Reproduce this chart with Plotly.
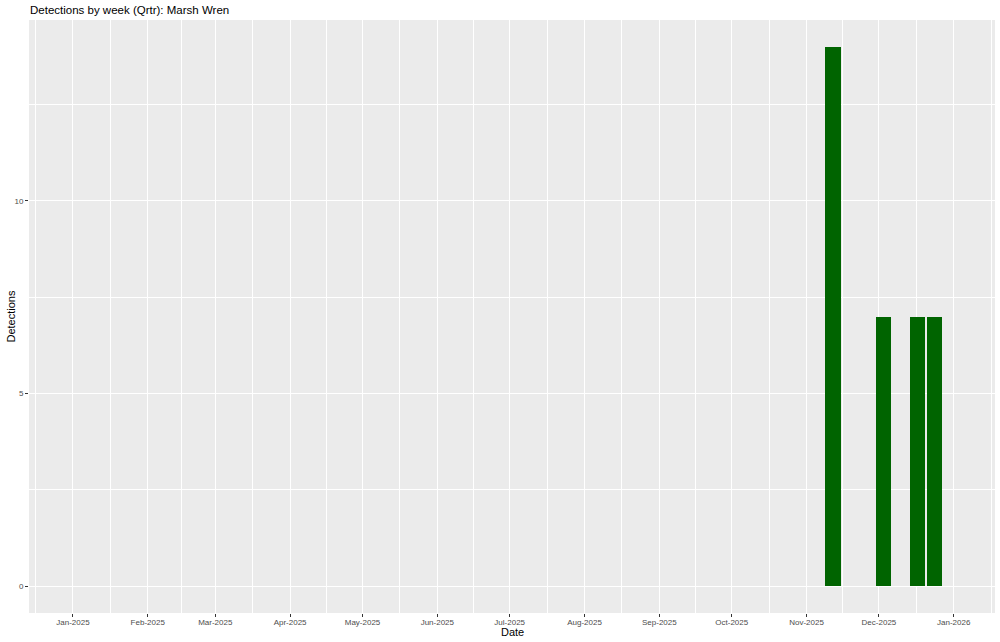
import plotly.graph_objects as go
import pandas as pd

# Data
week_dates = ["2025-11-12", "2025-12-03", "2025-12-17", "2025-12-24"]
detections = [14, 7, 7, 7]
month_ticks = pd.date_range("2025-01-01", "2026-01-01", freq="MS")
month_labels = [d.strftime("%b-%Y") for d in month_ticks]
y_ticks = [0, 5, 10]

bar_width_days = 6.3
W, H = 1000, 642
L, R, T, B = 29, 5, 20, 29

# minor gridlines halfway between month breaks
ext = pd.date_range("2024-12-01", "2026-02-01", freq="MS")
minor_x = [ext[i] + (ext[i + 1] - ext[i]) / 2 for i in range(len(ext) - 1)]

x0 = pd.Timestamp("2025-01-01") - pd.Timedelta(days=18.2)
x1 = pd.Timestamp("2025-01-01") + pd.Timedelta(days=382.1)

fig = go.Figure()
fig.add_trace(go.Bar(
    x=pd.to_datetime(week_dates),
    y=detections,
    width=[bar_width_days * 86400000] * len(week_dates),
    marker=dict(color="#006400", line=dict(width=0)),
    hoverinfo="x+y",
))

font = "Liberation Sans, Arial, sans-serif"
fig.update_layout(
    width=W, height=H,
    margin=dict(l=L, r=R, t=T, b=B, autoexpand=False),
    paper_bgcolor="white",
    plot_bgcolor="#EBEBEB",
    showlegend=False,
    font=dict(family=font, color="#4D4D4D", size=8),
    title=dict(text="Detections by week (Qrtr): Marsh Wren", x=30 / W, xref="container",
               xanchor="left", y=1 - 10 / H, yref="container", yanchor="middle",
               font=dict(family=font, size=11.5, color="black")),
    bargap=0,
)
fig.update_xaxes(
    type="date", range=[x0, x1],
    tickvals=list(month_ticks), ticktext=month_labels,
    ticks="outside", ticklen=3, tickcolor="#333333", tickwidth=1,
    ticklabelstandoff=-2,
    showgrid=True, gridcolor="white", gridwidth=1.1,
    zeroline=False, showline=False,
    tickfont=dict(size=8, color="#4D4D4D"),
    minor=dict(tickvals=minor_x, showgrid=True, gridcolor="white", gridwidth=0.55, ticks=""),
)
y_minor = [-2.5, 2.5, 7.5, 12.5]
fig.update_yaxes(
    range=[-0.7, 14.7],
    tickvals=y_ticks, ticktext=[str(v) for v in y_ticks],
    ticks="outside", ticklen=3, tickcolor="#333333", tickwidth=1,
    showgrid=True, gridcolor="white", gridwidth=1.1,
    zeroline=False, showline=False,
    tickfont=dict(size=8, color="#4D4D4D"),
    minor=dict(tickvals=y_minor, showgrid=True, gridcolor="white", gridwidth=0.55, ticks=""),
)
fig.add_annotation(text="Date", xref="paper", yref="paper", x=0.5, y=-(632 - (H - B)) / (H - T - B),
                   xanchor="center", yanchor="middle", showarrow=False,
                   font=dict(family=font, size=11, color="black"))
fig.add_annotation(text="Detections", xref="paper", yref="paper", x=-(L - 10) / (W - L - R), y=0.5,
                   xanchor="center", yanchor="middle", textangle=-90, showarrow=False,
                   font=dict(family=font, size=11, color="black"))

fig.write_html("out.html", config={"displayModeBar": False},
               post_script="document.body.style.margin='0';document.body.style.overflow='hidden';")
